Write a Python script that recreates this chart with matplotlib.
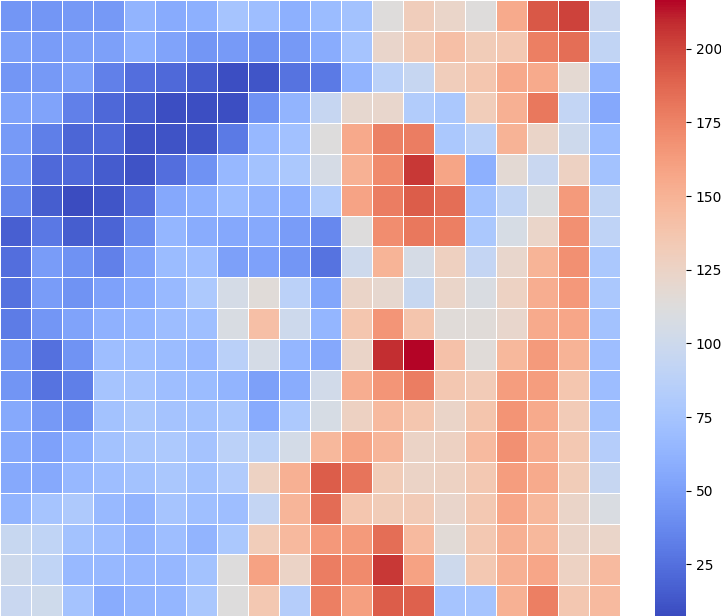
import numpy as np
import matplotlib
matplotlib.use("Agg")
import matplotlib.pyplot as plt
import seaborn as sns

# cell values, top row first
values = [
    [45, 45, 46, 46, 63, 57, 60, 75, 70, 60, 68, 73, 113, 130, 123, 113, 155, 193, 201, 97],
    [50, 48, 50, 50, 60, 52, 45, 47, 43, 46, 58, 75, 122, 133, 142, 132, 135, 177, 184, 92],
    [45, 46, 50, 33, 24, 22, 15, 9, 12, 27, 30, 63, 88, 95, 130, 137, 156, 155, 118, 63],
    [52, 52, 33, 21, 16, 9, 9, 9, 42, 63, 95, 120, 121, 82, 78, 131, 152, 180, 93, 55],
    [47, 32, 20, 21, 11, 11, 12, 30, 66, 72, 112, 156, 176, 178, 78, 88, 150, 124, 100, 68],
    [44, 22, 22, 15, 11, 24, 42, 66, 73, 78, 106, 151, 172, 205, 158, 60, 117, 97, 127, 73],
    [36, 16, 7.5, 12, 24, 55, 60, 68, 63, 59, 82, 159, 178, 192, 184, 73, 92, 111, 164, 92],
    [17, 29, 16, 19, 40, 64, 58, 55, 56, 48, 37, 112, 170, 180, 177, 78, 107, 123, 169, 90],
    [24, 48, 42, 33, 52, 68, 70, 50, 51, 45, 27, 100, 149, 106, 128, 94, 121, 149, 169, 78],
    [26, 48, 43, 51, 58, 67, 79, 105, 115, 88, 54, 124, 120, 96, 123, 109, 126, 153, 165, 78],
    [31, 45, 52, 61, 64, 69, 71, 108, 142, 100, 64, 137, 166, 138, 115, 115, 121, 155, 157, 73],
    [43, 25, 43, 70, 71, 68, 66, 87, 105, 64, 55, 124, 208, 216.5, 140, 115, 147, 164, 150, 70],
    [44, 27, 32, 75, 75, 70, 68, 63, 50, 58, 103, 153, 166, 178, 136, 133, 162, 162, 137, 69],
    [56, 46, 43, 73, 78, 74, 73, 77, 57, 79, 107, 127, 145, 137, 124, 138, 167, 155, 133, 73],
    [56, 51, 60, 73, 77, 79, 74, 88, 89, 104, 147, 158, 148, 125, 127, 145, 169, 153, 135, 84],
    [56, 56, 66, 70, 73, 77, 73, 81, 126, 152, 192, 182, 132, 125, 126, 135, 162, 155, 132, 95],
    [63, 75, 80, 67, 63, 75, 71, 70, 94, 148, 185, 137, 132, 133, 122, 135, 157, 147, 124, 109],
    [96, 91, 73, 69, 63, 70, 63, 78, 131, 146, 165, 164, 184, 145, 116, 135, 152, 147, 124, 123],
    [100, 91, 67, 66, 65, 65, 73, 112, 160, 125, 178, 172, 205, 160, 100, 135, 152, 157, 126, 145],
    [97, 101, 74, 58, 63, 64, 77, 112, 135, 84, 177, 161, 192, 190, 75, 75, 151, 177, 136, 145],
]

data = np.array(values, dtype=float)

fig = plt.figure(figsize=(7.21, 6.16), dpi=100)
ax = fig.add_axes([0, 0, 620 / 721, 1])
cax = fig.add_axes([655 / 721, 0, 31 / 721, 1])

sns.heatmap(data, cmap="coolwarm", linewidths=0.6, linecolor="white",
            xticklabels=False, yticklabels=False, ax=ax, cbar_ax=cax)
cax.tick_params(labelsize=10)
cax.set_yticks([25, 50, 75, 100, 125, 150, 175, 200])

fig.savefig("out.png", dpi=100)
